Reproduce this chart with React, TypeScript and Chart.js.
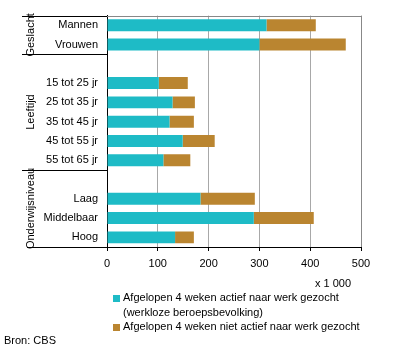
import React, { useEffect, useRef } from "react";
import { Chart, registerables } from "chart.js";

Chart.register(...registerables);

const categories = [
  "Mannen",
  "Vrouwen",
  "",
  "15 tot 25 jr",
  "25 tot 35 jr",
  "35 tot 45 jr",
  "45 tot 55 jr",
  "55 tot 65 jr",
  "",
  "Laag",
  "Middelbaar",
  "Hoog",
];
const actief = [314, 300, null, 102, 129, 123, 149, 111, null, 184, 289, 134];
const nietActief = [97, 170, null, 57, 44, 48, 63, 53, null, 107, 118, 37];
const groupLabels = ["Geslacht", "Leeftijd", "Onderwijsniveau"];
const groupStart = [0, 2, 8];
const groupEnd = [1, 7, 11];
const xTicks = [0, 100, 200, 300, 400, 500];
const legendLines = [
  ["Afgelopen 4 weken actief naar werk gezocht", "(werkloze beroepsbevolking)"],
  ["Afgelopen 4 weken niet actief naar werk gezocht"],
];
const unitLabel = "x 1 000";
const sourceLabel = "Bron: CBS";

const TEAL = "#1EBBC6";
const BROWN = "#BA8530";
const FONT = "11px 'Liberation Sans', Arial, sans-serif";

const decor = {
  id: "decor",
  afterDraw(chart: any) {
    const ctx = chart.ctx;
    const { left, right, top } = chart.chartArea;
    const ys = chart.scales.y;
    const half = (ys.getPixelForValue(1) - ys.getPixelForValue(0)) / 2;
    ctx.save();
    ctx.lineWidth = 1;
    // top border
    ctx.strokeStyle = "#888888";
    ctx.beginPath();
    ctx.moveTo(left, Math.round(top) + 0.5);
    ctx.lineTo(right, Math.round(top) + 0.5);
    ctx.stroke();
    // separators
    ctx.strokeStyle = "#000";
    const bounds: number[] = [ys.getPixelForValue(groupStart[0]) - half];
    groupEnd.forEach((e) => bounds.push(ys.getPixelForValue(e) + half));
    bounds.forEach((b, i) => {
      const yy = Math.round(b) + 0.5;
      ctx.beginPath();
      ctx.moveTo(i === bounds.length - 1 ? 27 : 22, yy);
      ctx.lineTo(left, yy);
      ctx.stroke();
    });
    // group labels
    ctx.fillStyle = "#000";
    ctx.font = FONT;
    ctx.textAlign = "center";
    ctx.textBaseline = "middle";
    groupLabels.forEach((g, i) => {
      const y0 = ys.getPixelForValue(groupStart[i]) - half;
      const y1 = ys.getPixelForValue(groupEnd[i]) + half;
      ctx.save();
      ctx.translate(31, (y0 + y1) / 2);
      ctx.rotate(-Math.PI / 2);
      ctx.fillText(g, 0, 0);
      ctx.restore();
    });
    // unit
    ctx.textAlign = "right";
    ctx.fillText(unitLabel, 351, 284);
    // legend
    ctx.textAlign = "left";
    const colors = [TEAL, BROWN];
    let ly = 298;
    legendLines.forEach((lines, i) => {
      ctx.fillStyle = colors[i];
      ctx.fillRect(113, ly - 3, 7, 7);
      ctx.fillStyle = "#000";
      lines.forEach((t) => {
        ctx.fillText(t, 123, ly);
        ly += 14.5;
      });
    });
    // source
    ctx.fillText(sourceLabel, 4, 341);
    ctx.restore();
  },
};

export default function App() {
  const ref = useRef<HTMLCanvasElement>(null);
  useEffect(() => {
    if (!ref.current) return;
    const chart = new Chart(ref.current, {
      type: "bar",
      data: {
        labels: categories,
        datasets: [
          {
            label: legendLines[0].join(" "),
            data: actief as any,
            backgroundColor: TEAL,
            barPercentage: 0.62,
            categoryPercentage: 1,
          },
          {
            label: legendLines[1].join(" "),
            data: nietActief as any,
            backgroundColor: BROWN,
            barPercentage: 0.62,
            categoryPercentage: 1,
          },
        ],
      },
      options: {
        indexAxis: "y",
        responsive: false,
        animation: false,
        devicePixelRatio: 1,
        layout: { padding: { left: 0, right: 35, top: 13, bottom: 77 } },
        plugins: { legend: { display: false }, tooltip: { enabled: false } },
        scales: {
          x: {
            stacked: true,
            min: 0,
            max: 500,
            afterBuildTicks: (s: any) => {
              s.ticks = xTicks.map((v) => ({ value: v }));
            },
            afterFit: (s: any) => {
              s.height = 30;
            },
            grid: {
              color: (c: any) =>
                c.tick && c.tick.value === 0 ? "#000" : c.tick && c.tick.value === 500 ? "#888888" : "#A8A8A8",
              tickColor: "#000",
              tickLength: 4,
            },
            border: { color: "#000" },
            ticks: {
              color: "#000",
              font: { family: "'Liberation Sans', Arial, sans-serif", size: 11 },
              padding: 6,
              maxRotation: 0,
            },
          },
          y: {
            stacked: true,
            afterFit: (s: any) => {
              s.width = 107;
            },
            grid: { display: false, drawTicks: false },
            border: { color: "#000" },
            ticks: {
              autoSkip: false,
              color: "#000",
              padding: 9,
              font: { family: "'Liberation Sans', Arial, sans-serif", size: 11 },
            },
          },
        },
      },
      plugins: [decor],
    });
    return () => chart.destroy();
  }, []);
  return (
    <div style={{ position: "absolute", left: 0, top: 0, width: 396, height: 354, background: "#fff" }}>
      <canvas ref={ref} width={396} height={354} style={{ display: "block" }} />
    </div>
  );
}
